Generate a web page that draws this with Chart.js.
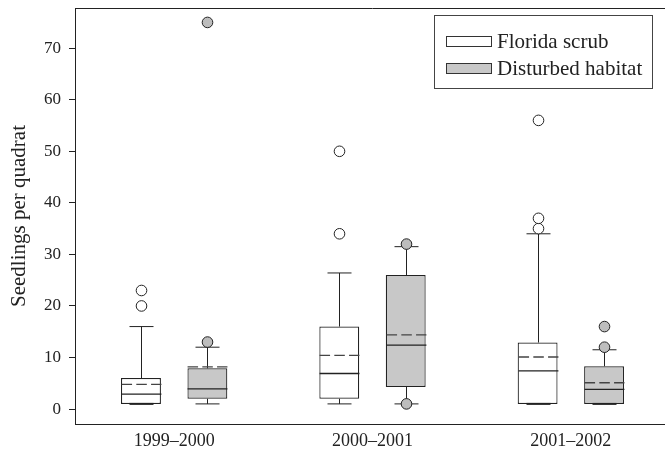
<!DOCTYPE html>
<html>
<head>
<meta charset="utf-8">
<title>Seedlings per quadrat</title>
<script src="https://cdn.jsdelivr.net/npm/chart.js"></script>
<style>
  html, body {
    margin: 0;
    padding: 0;
    background: #fff;
    overflow: hidden;
  }
  .chart-box {
    width: 670px;
    height: 452px;
  }
</style>
</head>
<body>
<div class="chart-box"><canvas id="boxChart" width="670" height="452"></canvas></div>
<script>
// values
const years = ['1999\u20132000', '2000\u20132001', '2001\u20132002'];
const yTicks = [0, 10, 20, 30, 40, 50, 60, 70];

const scrubQ1 = [1, 2, 1];
const scrubQ3 = [6, 16, 12.9];
const scrubMedian = [2.9, 6.9, 7.4];
const scrubMean = [4.8, 10.4, 10.1];
const scrubLow = [1, 1, 1];
const scrubHigh = [16, 26.4, 34];
const scrubOutliers = [[20, 23], [34, 50], [35, 37, 56]];

const disturbedQ1 = [2, 4.3, 1];
const disturbedQ3 = [7.9, 26, 8.3];
const disturbedMedian = [3.9, 12.4, 3.8];
const disturbedMean = [8.2, 14.4, 5.1];
const disturbedLow = [1, 1, 1];
const disturbedHigh = [12, 31.5, 11.5];
const disturbedOutliers = [[13, 75], [1, 32], [12, 16]];

const serif = '"Liberation Serif", "Times New Roman", serif';
const ink = '#222';

const groups = [
  { label: 'Florida scrub', fill: '#ffffff', q1: scrubQ1, q3: scrubQ3, median: scrubMedian,
    mean: scrubMean, low: scrubLow, high: scrubHigh, outliers: scrubOutliers, dot: '#ffffff' },
  { label: 'Disturbed habitat', fill: '#c8c8c8', q1: disturbedQ1, q3: disturbedQ3, median: disturbedMedian,
    mean: disturbedMean, low: disturbedLow, high: disturbedHigh, outliers: disturbedOutliers, dot: '#bdbdbd' }
];

function hline(ctx, x1, x2, y) {
  ctx.beginPath();
  ctx.moveTo(x1, y);
  ctx.lineTo(x2, y);
  ctx.stroke();
}

// whiskers, medians, means and outliers on top of the floating bars
const boxExtras = {
  id: 'boxExtras',
  afterDatasetsDraw(chart) {
    const ctx = chart.ctx;
    const y = chart.scales.y;
    ctx.save();
    groups.forEach((g, i) => {
      chart.getDatasetMeta(i).data.forEach((bar, j) => {
        const x = Math.round(bar.x) + 0.5;
        const half = bar.width / 2;
        const cap = 12;
        ctx.strokeStyle = ink;
        ctx.lineWidth = 1;
        ctx.setLineDash([]);
        // upper whisker
        ctx.beginPath();
        ctx.moveTo(x, y.getPixelForValue(g.q3[j]));
        ctx.lineTo(x, y.getPixelForValue(g.high[j]));
        ctx.stroke();
        hline(ctx, x - cap, x + cap, y.getPixelForValue(g.high[j]));
        // lower whisker
        ctx.beginPath();
        ctx.moveTo(x, y.getPixelForValue(g.q1[j]));
        ctx.lineTo(x, y.getPixelForValue(g.low[j]));
        ctx.stroke();
        ctx.lineWidth = g.low[j] === g.q1[j] ? 2 : 1;
        hline(ctx, x - cap, x + cap, y.getPixelForValue(g.low[j]));
        ctx.lineWidth = 1;
        // median
        ctx.strokeStyle = '#222';
        ctx.lineWidth = 1.3;
        hline(ctx, x - half, x + half, y.getPixelForValue(g.median[j]));
        // mean, dashed
        ctx.strokeStyle = '#444';
        ctx.setLineDash([10.5, 4.25]);
        hline(ctx, x - half, x + half, y.getPixelForValue(g.mean[j]));
        ctx.setLineDash([]);
        ctx.lineWidth = 1;
        // outliers
        ctx.strokeStyle = ink;
        ctx.fillStyle = g.dot;
        g.outliers[j].forEach(v => {
          ctx.beginPath();
          ctx.arc(x, y.getPixelForValue(v), 5.3, 0, Math.PI * 2);
          ctx.fill();
          ctx.stroke();
        });
      });
    });
    ctx.restore();
  },
  afterDraw(chart) {
    const ctx = chart.ctx;
    const a = chart.chartArea;
    ctx.save();
    ctx.strokeStyle = ink;
    ctx.lineWidth = 1;
    hline(ctx, a.left, a.right, Math.round(a.top) + 0.5);

    // legend box, top right
    ctx.fillStyle = '#fff';
    ctx.fillRect(434, 15, 218, 73);
    ctx.strokeStyle = '#444';
    ctx.strokeRect(434.5, 15.5, 218, 73);
    ctx.font = '21px ' + serif;
    ctx.textBaseline = 'middle';
    groups.forEach((g, i) => {
      const cy = 41 + i * 27;
      ctx.fillStyle = g.fill;
      ctx.fillRect(446, cy - 5, 45, 10);
      ctx.strokeStyle = '#333';
      ctx.strokeRect(446.5, cy - 4.5, 45, 10);
      ctx.fillStyle = ink;
      ctx.fillText(g.label, 497, cy + 1);
    });
    ctx.restore();
  }
};

new Chart(document.getElementById('boxChart'), {
  type: 'bar',
  data: {
    labels: years,
    datasets: groups.map(g => ({
      label: g.label,
      data: g.q1.map((v, j) => [v, g.q3[j]]),
      backgroundColor: g.fill,
      borderColor: '#222',
      borderWidth: 1.2,
      borderSkipped: false,
      categoryPercentage: 0.67,
      barPercentage: 0.6
    }))
  },
  options: {
    responsive: false,
    animation: false,
    devicePixelRatio: 1,
    layout: { padding: { top: 8, right: 0, bottom: 0, left: 0 } },
    plugins: {
      legend: { display: false },
      tooltip: { enabled: false }
    },
    scales: {
      x: {
        grid: { display: false, drawTicks: false },
        border: { display: true, color: ink, width: 1 },
        ticks: { color: ink, padding: 6, font: { family: serif, size: 18 } },
        afterFit: s => { s.height = 28; }
      },
      y: {
        min: -2.9,
        max: 77.8,
        afterBuildTicks: s => { s.ticks = yTicks.map(v => ({ value: v })); },
        grid: { drawOnChartArea: false, drawTicks: true, tickLength: 6, color: ink },
        border: { display: true, color: ink, width: 1 },
        ticks: { color: ink, padding: 8, font: { family: serif, size: 17 } },
        title: {
          display: true,
          text: 'Seedlings per quadrat',
          color: ink,
          padding: { top: 7, bottom: 0 },
          font: { family: serif, size: 21 }
        },
        afterFit: s => {
          s.width = 75;
          s.paddingTop = 0;
          s.paddingBottom = 0;
        }
      }
    }
  },
  plugins: [boxExtras]
});
</script>
</body>
</html>
